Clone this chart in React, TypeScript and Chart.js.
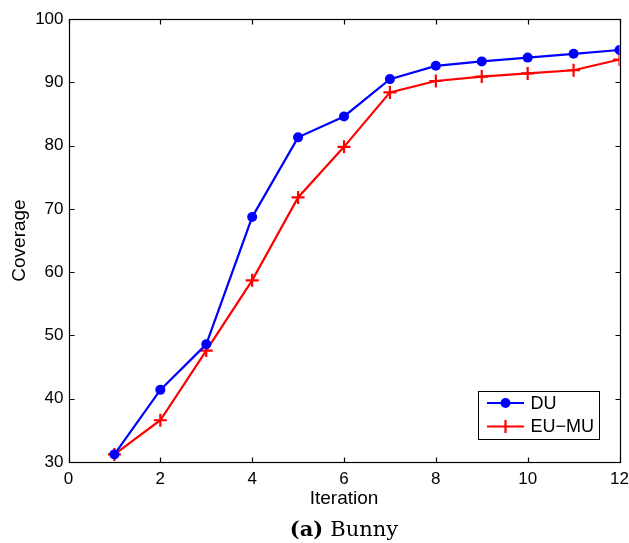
import React, { useEffect, useRef } from "react";
import { Chart, registerables } from "chart.js";

Chart.register(...registerables);

const iterations = [1, 2, 3, 4, 5, 6, 7, 8, 9, 10, 11, 12];
const duValues = [31.2, 41.4, 48.6, 68.7, 81.3, 84.6, 90.5, 92.6, 93.3, 93.9, 94.5, 95.1];
const euMuValues = [31.2, 36.6, 47.6, 58.7, 71.8, 79.8, 88.4, 90.2, 90.9, 91.4, 91.9, 93.6];
const xTicks = [0, 2, 4, 6, 8, 10, 12];
const yTicks = [30, 40, 50, 60, 70, 80, 90, 100];
const seriesNames = ["DU", "EU\u2212MU"];
const seriesColors = ["#0000ff", "#ff0000"];
const xTitle = "Iteration";
const yTitle = "Coverage";
const captionLabel = "(a)";
const captionText = "Bunny";

const SANS = '"Liberation Sans", Arial, Helvetica, sans-serif';
const SERIF = '"DejaVu Serif", serif';

const framePlugin = {
  id: "frame",
  beforeDatasetsDraw(chart: any) {
    const { ctx, chartArea, scales } = chart;
    const { left, right, top, bottom } = chartArea;
    const L = Math.round(left) + 0.5;
    const R = Math.round(right) + 0.5;
    const T = Math.round(top) + 0.5;
    const B = Math.round(bottom) + 0.5;
    ctx.save();
    ctx.strokeStyle = "#000";
    ctx.lineWidth = 1.2;
    ctx.strokeRect(L, T, R - L, B - T);
    const tl = 5;
    ctx.beginPath();
    xTicks.forEach((v) => {
      const px = Math.round(scales.x.getPixelForValue(v)) + 0.5;
      ctx.moveTo(px, B);
      ctx.lineTo(px, B - tl);
      ctx.moveTo(px, T);
      ctx.lineTo(px, T + tl);
    });
    yTicks.forEach((v) => {
      const py = Math.round(scales.y.getPixelForValue(v)) + 0.5;
      ctx.moveTo(L, py);
      ctx.lineTo(L + tl, py);
      ctx.moveTo(R, py);
      ctx.lineTo(R - tl, py);
    });
    ctx.stroke();
    ctx.restore();
  },
  afterDraw(chart: any) {
    const { ctx, chartArea } = chart;
    const { right, bottom, left } = chartArea;
    // legend box
    const bw = 121;
    const bh = 48;
    const bx = Math.round(right - 20.5 - bw) + 0.5;
    const by = Math.round(bottom - 23 - bh) + 0.5;
    ctx.save();
    ctx.fillStyle = "#fff";
    ctx.fillRect(bx, by, bw, bh);
    ctx.strokeStyle = "#000";
    ctx.lineWidth = 1;
    ctx.strokeRect(bx, by, bw, bh);
    const rows = [by + 11.5, by + 35];
    seriesNames.forEach((name, i) => {
      const y = rows[i];
      const x0 = bx + 8.5;
      const x1 = bx + 45.5;
      const cx = (x0 + x1) / 2;
      ctx.strokeStyle = seriesColors[i];
      ctx.fillStyle = seriesColors[i];
      ctx.lineWidth = 2.2;
      ctx.beginPath();
      ctx.moveTo(x0, y);
      ctx.lineTo(x1, y);
      ctx.stroke();
      if (i === 0) {
        ctx.beginPath();
        ctx.arc(cx, y, 5, 0, Math.PI * 2);
        ctx.fill();
      } else {
        ctx.beginPath();
        ctx.moveTo(cx, y - 6.5);
        ctx.lineTo(cx, y + 6.5);
        ctx.stroke();
      }
      ctx.fillStyle = "#000";
      ctx.font = `18px ${SANS}`;
      ctx.textAlign = "left";
      ctx.textBaseline = "middle";
      ctx.fillText(name, bx + 52, y + 1);
    });
    // caption
    const cxm = (left + right) / 2;
    ctx.font = `bold 21px ${SERIF}`;
    const wa = ctx.measureText(captionLabel).width;
    ctx.font = `21px ${SERIF}`;
    const wb = ctx.measureText(captionText).width;
    const gap = 7;
    const start = cxm - (wa + gap + wb) / 2;
    const baseY = chart.height - 7;
    ctx.fillStyle = "#000";
    ctx.textBaseline = "alphabetic";
    ctx.textAlign = "left";
    ctx.font = `bold 21px ${SERIF}`;
    ctx.fillText(captionLabel, start, baseY);
    ctx.font = `21px ${SERIF}`;
    ctx.fillText(captionText, start + wa + gap, baseY);
    ctx.restore();
  },
};

export default function App() {
  const canvasRef = useRef<HTMLCanvasElement | null>(null);

  useEffect(() => {
    const canvas = canvasRef.current;
    if (!canvas) return;
    const chart = new Chart(canvas, {
      type: "line",
      data: {
        datasets: [
          {
            label: seriesNames[0],
            data: iterations.map((x, i) => ({ x, y: duValues[i] })),
            borderColor: seriesColors[0],
            backgroundColor: seriesColors[0],
            borderWidth: 2.2,
            pointStyle: "circle",
            pointRadius: 5,
            pointBorderWidth: 0,
            pointBackgroundColor: seriesColors[0],
            tension: 0,
            fill: false,
          },
          {
            label: seriesNames[1],
            data: iterations.map((x, i) => ({ x, y: euMuValues[i] })),
            borderColor: seriesColors[1],
            backgroundColor: seriesColors[1],
            borderWidth: 2.2,
            pointStyle: "cross",
            pointRadius: 6.5,
            pointBorderWidth: 2.2,
            pointBorderColor: seriesColors[1],
            tension: 0,
            fill: false,
          },
        ],
      },
      options: {
        responsive: false,
        animation: false,
        devicePixelRatio: 1,
        layout: { padding: { top: 19, right: 9.5, bottom: 33, left: 0 } },
        plugins: {
          legend: { display: false },
          tooltip: { enabled: false },
        },
        scales: {
          x: {
            type: "linear",
            min: 0,
            max: 12,
            afterBuildTicks: (scale: any) => {
              scale.ticks = xTicks.map((v) => ({ value: v }));
            },
            afterFit: (scale: any) => {
              scale.height = 48;
              scale.paddingLeft = 0;
              scale.paddingRight = 0;
            },
            grid: { display: false, drawTicks: false },
            border: { display: false },
            ticks: {
              color: "#000",
              font: { family: SANS, size: 17 },
              padding: 7,
              maxRotation: 0,
            },
            title: {
              display: true,
              text: xTitle,
              color: "#000",
              font: { family: SANS, size: 19 },
              padding: { top: 0, bottom: 0 },
            },
          },
          y: {
            type: "linear",
            min: 30,
            max: 100,
            afterBuildTicks: (scale: any) => {
              scale.ticks = yTicks.map((v) => ({ value: v }));
            },
            afterFit: (scale: any) => {
              scale.width = 68.5;
              scale.paddingTop = 0;
              scale.paddingBottom = 0;
            },
            grid: { display: false, drawTicks: false },
            border: { display: false },
            ticks: {
              color: "#000",
              font: { family: SANS, size: 17 },
              padding: 5,
            },
            title: {
              display: true,
              text: yTitle,
              color: "#000",
              font: { family: SANS, size: 19 },
              padding: { top: 8, bottom: 0 },
            },
          },
        },
      },
      plugins: [framePlugin],
    } as any);
    return () => chart.destroy();
  }, []);

  return (
    <div style={{ position: "absolute", left: 0, top: 0, width: 629, height: 543, background: "#fff" }}>
      <canvas ref={canvasRef} width={629} height={543} style={{ display: "block" }} />
    </div>
  );
}
